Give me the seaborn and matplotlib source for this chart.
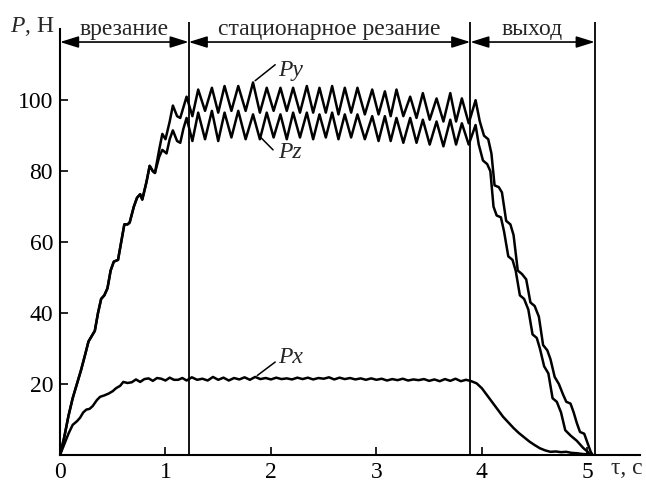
import matplotlib
matplotlib.use("Agg")
import matplotlib.pyplot as plt
import pandas as pd
import seaborn as sns

# --- data (time in s, force in N) ---
rise_t = [0.00, 0.04, 0.08, 0.12, 0.16, 0.20, 0.24, 0.27, 0.30, 0.33, 0.36, 0.39,
          0.42, 0.45, 0.48, 0.51, 0.55, 0.58, 0.61, 0.64, 0.66, 0.70, 0.73, 0.76,
          0.78, 0.82, 0.85, 0.88, 0.90]
rise_v = [0, 5, 11, 16, 20, 24, 28.5, 32, 33.5, 35, 40, 44,
          45, 47, 52, 54.5, 55, 60, 65, 65, 65.5, 70, 72.5, 73.5,
          72, 77, 81.5, 80, 79.5]

py_split_t = [0.94, 0.97, 1.00, 1.04, 1.07, 1.11, 1.14, 1.17]
py_split_v = [86, 90.5, 89, 94, 98.5, 95.5, 95, 98]
pz_split_t = [0.94, 0.97, 1.01, 1.04, 1.07, 1.11, 1.14, 1.17]
pz_split_v = [84, 86, 85, 89, 91.5, 88.5, 88, 92]

# stationary cutting: peaks and troughs
peak_t = [1.20, 1.31, 1.44, 1.56, 1.69, 1.83, 1.96, 2.09, 2.21, 2.34, 2.46, 2.58,
          2.70, 2.82, 2.96, 3.08, 3.19, 3.32, 3.44, 3.57, 3.70, 3.81, 3.94]
trough_t = [1.255, 1.375, 1.50, 1.625, 1.76, 1.895, 2.025, 2.15, 2.275, 2.40, 2.52,
            2.64, 2.76, 2.89, 3.02, 3.135, 3.255, 3.38, 3.505, 3.635, 3.755, 3.875]
py_peak = [101, 103, 103.5, 104, 104, 105, 103.5, 103.5, 103.5, 104, 103.5, 104,
           103.5, 103.5, 103, 102.5, 103, 101, 102, 100.5, 102, 100.5, 100]
py_trough = [95.5, 97, 96.5, 97, 97, 96.5, 97, 97, 96.5, 96.5, 96.5,
             96, 96.5, 96, 96, 95.5, 95.5, 95, 94.5, 94, 94, 93.5]
pz_peak = [95, 96.5, 97, 96.5, 97, 96, 96.5, 96, 96.5, 96.5, 96, 96.5,
           96, 96, 95.5, 95.5, 95, 95, 94.5, 94, 94.5, 93.5, 93]
pz_trough = [88.5, 89, 88.5, 89.5, 89, 89, 89.5, 89, 89.5, 89, 89.5,
             89, 89.5, 89, 88.5, 88.5, 88, 88, 87.5, 87, 87.5, 87.5]

py_exit_t = [3.98, 4.02, 4.06, 4.09, 4.12, 4.16, 4.19, 4.23, 4.27, 4.30, 4.34, 4.38,
             4.42, 4.46, 4.50, 4.54, 4.58, 4.62, 4.65, 4.69, 4.73, 4.77, 4.80, 4.84,
             4.87, 4.90, 4.93, 4.97, 5.00, 5.03, 5.05]
py_exit_v = [94, 90, 89, 85, 76, 75.5, 74, 66, 65, 62, 52, 51,
             49.5, 43, 42, 39, 31, 29.5, 27, 22, 20, 17, 15, 14.5,
             12, 9, 6.5, 6, 3.5, 1, 0]
pz_exit_t = [3.97, 4.01, 4.05, 4.08, 4.11, 4.14, 4.18, 4.21, 4.25, 4.29, 4.32, 4.36,
             4.40, 4.44, 4.48, 4.52, 4.55, 4.59, 4.63, 4.67, 4.71, 4.75, 4.79, 4.84,
             4.90, 4.96, 5.00, 5.03]
pz_exit_v = [87.5, 83, 82, 80, 70, 67.5, 67, 63, 56, 55, 52, 45,
             44, 41, 34, 33, 30, 25, 23, 16, 15, 12, 7, 5.5,
             4, 2, 1, 0]

px_t = [0.00, 0.04, 0.08, 0.12, 0.16, 0.19, 0.22, 0.25, 0.28, 0.31, 0.35, 0.38,
        0.42, 0.46, 0.50, 0.53, 0.57, 0.60, 0.64, 0.68, 0.72, 0.76, 0.80, 0.84,
        0.88, 0.92, 0.96, 1.00, 1.04, 1.08, 1.12, 1.16,
        1.20, 1.25, 1.30, 1.35, 1.40, 1.45, 1.50, 1.55, 1.60, 1.65, 1.70, 1.75,
        1.80, 1.85, 1.90, 1.95, 2.00, 2.05, 2.10, 2.15, 2.20, 2.25, 2.30, 2.35,
        2.40, 2.45, 2.50, 2.55, 2.60, 2.65, 2.70, 2.75, 2.80, 2.85, 2.90, 2.95,
        3.00, 3.05, 3.10, 3.15, 3.20, 3.25, 3.30, 3.35, 3.40, 3.45, 3.50, 3.55,
        3.60, 3.65, 3.70, 3.75, 3.80, 3.85,
        3.90, 3.95, 4.00, 4.05, 4.10, 4.15, 4.20, 4.25, 4.30, 4.35, 4.40, 4.45,
        4.50, 4.55, 4.60, 4.65, 4.70, 4.75, 4.80, 4.85, 4.90, 4.95, 5.00, 5.03]
px_v = [0, 3, 6, 8.5, 9.5, 10.5, 12, 12.8, 13, 13.8, 15.5, 16.4,
        16.8, 17.3, 18, 18.8, 19.5, 20.6, 20.3, 20.5, 21.3, 20.6, 21.4, 21.6,
        20.9, 21.7, 21.5, 21, 21.8, 21.2, 21.2, 21.7,
        21.0, 21.9, 21.2, 21.5, 21.0, 22.0, 21.2, 21.8, 21.0, 21.7, 21.3, 21.9,
        21.2, 22.0, 21.4, 21.7, 21.3, 21.8, 21.4, 21.6, 21.3, 21.8, 21.4, 21.8,
        21.3, 21.7, 21.5, 21.9, 21.3, 21.8, 21.4, 21.7, 21.3, 21.6, 21.2, 21.6,
        21.2, 21.5, 21.0, 21.4, 21.1, 21.5, 21.0, 21.3, 21.1, 21.4, 20.9, 21.3,
        20.8, 21.4, 20.9, 21.5, 20.8, 21.2,
        20.8, 20.2, 18.8, 16.8, 14.8, 12.8, 10.8, 9.2, 7.6, 6.2, 5.0, 3.8,
        2.8, 1.9, 1.3, 0.9, 1.0, 0.8, 0.9, 0.6, 0.5, 0.3, 0.2, 0]

phase_edges = [0, 1.22, 3.89, 5.07]
phase_names = ["врезание", "стационарное резание", "выход"]


def stationary(peaks, troughs):
    t, v = [], []
    for i in range(len(peak_t)):
        t.append(peak_t[i]); v.append(peaks[i])
        if i < len(trough_t):
            t.append(trough_t[i]); v.append(troughs[i])
    return t, v


st_t, py_st = stationary(py_peak, py_trough)
_, pz_st = stationary(pz_peak, pz_trough)

pyDF = pd.DataFrame({'t': rise_t + py_split_t + st_t + py_exit_t,
                     'P': rise_v + py_split_v + py_st + py_exit_v})
pzDF = pd.DataFrame({'t': rise_t + pz_split_t + st_t + pz_exit_t,
                     'P': rise_v + pz_split_v + pz_st + pz_exit_v})
pxDF = pd.DataFrame({'t': px_t, 'P': px_v})

sns.set_theme(style="white")
plt.rcParams['font.family'] = ['Liberation Serif', 'DejaVu Serif']
plt.rcParams['mathtext.fontset'] = 'custom'
plt.rcParams['mathtext.rm'] = 'Liberation Serif'
plt.rcParams['mathtext.it'] = 'Liberation Serif:italic'

FS = 17

fig = plt.figure(figsize=(6.46, 4.88), dpi=100)
ax = fig.add_axes([0.0929, 0.0676, 0.898, 0.887])

for df in (pyDF, pzDF, pxDF):
    sns.lineplot(data=df, x='t', y='P', sort=False, estimator=None, color='black',
                 linewidth=1.8, ax=ax, solid_joinstyle='round')

ax.set_xlim(0, 5.5)
ax.set_ylim(0, 122)
ax.spines['right'].set_visible(False)
ax.spines['top'].set_visible(False)
for s in ('left', 'bottom'):
    ax.spines[s].set_color('black')
    ax.spines[s].set_linewidth(1.5)
ax.spines['left'].set_bounds(0, 120)
ax.set_xticks([0, 1, 2, 3, 4, 5])
ax.set_yticks([20, 40, 60, 80, 100])
ax.tick_params(axis='both', direction='in', length=6, width=1.2, colors='black',
               labelsize=FS, pad=5, left=True, bottom=True)
ax.set_xlabel('')
ax.set_ylabel('')

# phase boundaries, arrows and names
ax.vlines(phase_edges[1:], 0, 122, color='black', linewidth=1.3)
for a, b, name in zip(phase_edges[:-1], phase_edges[1:], phase_names):
    ax.annotate('', xy=(b, 116.4), xytext=(a, 116.4),
                arrowprops=dict(arrowstyle='<|-|>,head_length=0.8,head_width=0.25',
                                color='black', lw=1.2, mutation_scale=14,
                                shrinkA=0, shrinkB=0))
    ax.text((a + b) / 2, 119.8, name, ha='center', va='center', fontsize=FS)

# curve labels with leader lines
ax.plot([1.85, 2.04], [105.5, 110], color='black', lw=1.1)
ax.text(2.07, 108.5, 'Py', style='italic', ha='left', va='center', fontsize=FS)
ax.plot([1.90, 2.02], [89.6, 86], color='black', lw=1.1)
ax.text(2.07, 85.2, 'Pz', style='italic', ha='left', va='center', fontsize=FS)
ax.plot([1.87, 2.04], [22.4, 26.2], color='black', lw=1.1)
ax.text(2.07, 27.6, 'Px', style='italic', ha='left', va='center', fontsize=FS)

# axis names
ax.text(-0.05, 120.8, r'$P$, Н', ha='right', va='center', fontsize=FS, clip_on=False)
ax.text(5.22, -3.9, 'τ, с', ha='left', va='center', fontsize=FS, clip_on=False)

fig.savefig('out.png', dpi=100)
